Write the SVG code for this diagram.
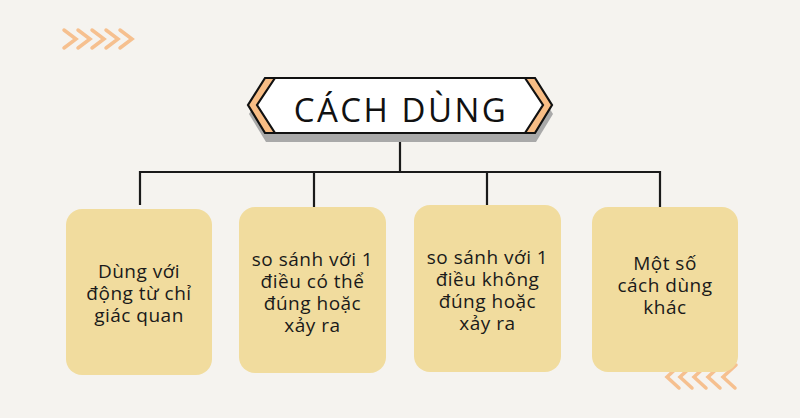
<svg xmlns="http://www.w3.org/2000/svg" width="800" height="418" viewBox="0 0 800 418">
<defs>
<style>
.bg{fill:#f5f3ef}
.box{fill:#f1dc9e}
.chev{fill:none;stroke:#f6c08f;stroke-width:3.5;stroke-linecap:round;stroke-linejoin:miter}
.line{fill:none;stroke:#1a1a1a;stroke-width:2.2}
.txt{font-family:"Open Sans","Noto Sans",sans-serif;font-size:19px;letter-spacing:0.5px;fill:#1a1a1a;text-anchor:middle}
.title{font-family:"Open Sans","Noto Sans",sans-serif;font-size:33px;letter-spacing:2.5px;fill:#111;text-anchor:middle}
.outline{stroke:#111;stroke-width:2.2;stroke-linejoin:miter}
</style>
</defs>
<rect class="bg" x="0" y="0" width="800" height="418"/>

<g id="deco-top">
<path class="chev" d="M64,30 L76,39 L64,48 M78,30 L90,39 L78,48 M92,30 L104,39 L92,48 M106,30 L118,39 L106,48 M120,30 L132,39 L120,48"/>
</g>
<g id="deco-bottom">
<path class="chev" d="M680,365 L667,377 L679,388 M693,365 L680,377 L692,388 M707,365 L694,377 L706,388 M721,365 L708,377 L720,388 M736,365 L723,377 L735,388"/>
</g>

<g id="connectors">
<path class="line" d="M400,134 V172 M140,172 H660 M140,171 V205 M314,171 V207 M487,171 V205 M660,171 V207"/>
</g>

<g id="title">
<polygon points="265,78 535,78 552,105 535,133 265,133 248,105" fill="#a9a9a9" transform="translate(1,9)"/>
<polygon class="outline" points="265,78 535,78 552,105 535,133 265,133 248,105" fill="#f8bd85"/>
<polygon class="outline" points="275,78 525,78 543,105 525,133 275,133 257,105" fill="#ffffff"/>
<text class="title" x="401" y="122">CÁCH DÙNG</text>
</g>

<g id="node1">
<rect class="box" x="66" y="209" width="146" height="166" rx="16"/>
<text class="txt" x="139" y="278">Dùng với</text>
<text class="txt" x="139" y="300">động từ chỉ</text>
<text class="txt" x="139" y="322">giác quan</text>
</g>
<g id="node2">
<rect class="box" x="239" y="207" width="147" height="166" rx="16"/>
<text class="txt" x="312.5" y="266">so sánh với 1</text>
<text class="txt" x="312.5" y="288">điều có thể</text>
<text class="txt" x="312.5" y="310">đúng hoặc</text>
<text class="txt" x="312.5" y="332">xảy ra</text>
</g>
<g id="node3">
<rect class="box" x="414" y="205" width="147" height="167" rx="16"/>
<text class="txt" x="487.5" y="264">so sánh với 1</text>
<text class="txt" x="487.5" y="286">điều không</text>
<text class="txt" x="487.5" y="308">đúng hoặc</text>
<text class="txt" x="487.5" y="330">xảy ra</text>
</g>
<g id="node4">
<rect class="box" x="592" y="207" width="146" height="165" rx="16"/>
<text class="txt" x="665" y="270">Một số</text>
<text class="txt" x="665" y="292">cách dùng</text>
<text class="txt" x="665" y="314">khác</text>
</g>
</svg>
